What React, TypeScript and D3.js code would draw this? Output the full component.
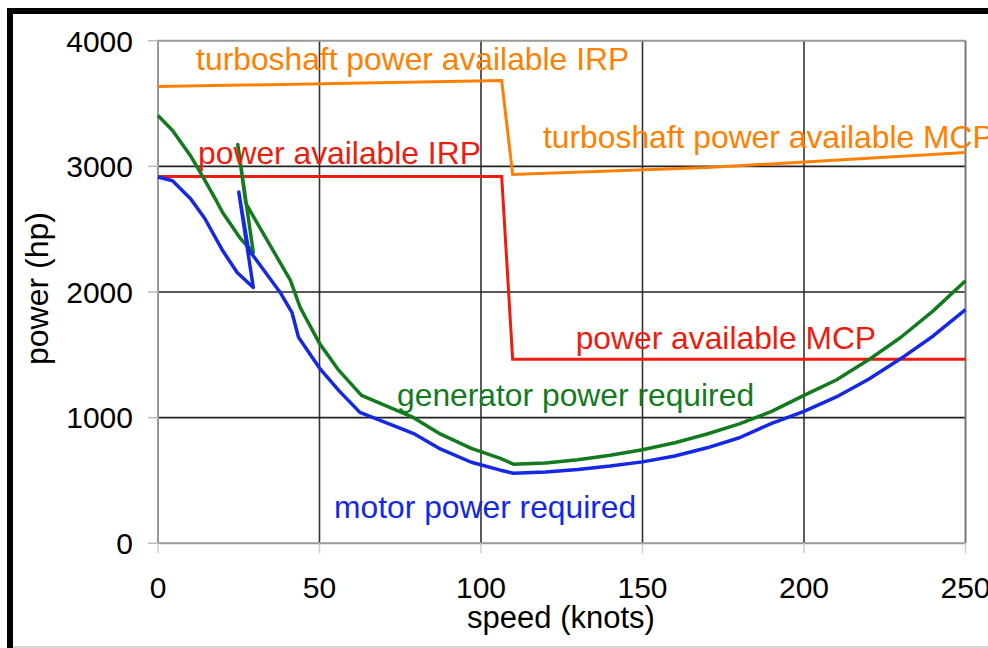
import React from "react";
import * as d3 from "d3";

const xTicks = [0, 50, 100, 150, 200, 250];
const yTicks = [0, 1000, 2000, 3000, 4000];

const turboSpeed = [0, 106.4, 109.8, 170, 250];
const turboPower = [3635, 3683, 2936, 2990, 3110];

const availSpeed = [0, 106.4, 109.8, 250];
const availPower = [2920, 2920, 1464, 1464];

const motorSpeed = [0, 4.5, 10, 14.5, 20, 24.5, 29.5, 25, 28, 38, 41.5, 43.5, 50, 56, 62.5, 79, 87, 97, 106, 110, 120, 130, 140, 150, 160, 170, 180, 190, 200, 210, 220, 230, 240, 250];
const motorPower = [2915, 2885, 2745, 2585, 2330, 2155, 2036, 2795, 2340, 1990, 1835, 1640, 1395, 1215, 1042, 875, 756, 645, 582, 558, 568, 588, 615, 648, 695, 760, 840, 955, 1050, 1165, 1305, 1470, 1650, 1860];

const genSpeed = [0, 4.5, 10, 14, 18, 20, 25.5, 29.5, 24.7, 27.2, 41, 44, 50, 56, 63, 79, 87, 97, 106, 110, 120, 130, 140, 150, 160, 170, 180, 190, 200, 210, 220, 230, 240, 250];
const genPower = [3405, 3285, 3087, 2912, 2729, 2633, 2426, 2315, 3174, 2705, 2092, 1877, 1591, 1376, 1177, 1002, 875, 756, 676, 630, 640, 665, 700, 745, 800, 870, 950, 1050, 1177, 1300, 1460, 1640, 1850, 2090];

const labels = [
  { text: "turboshaft power available IRP", x: 11.8, y: 3765, color: "#ff8000" },
  { text: "turboshaft power available MCP", x: 119.2, y: 3150, color: "#ff8000" },
  { text: "power available IRP", x: 12.4, y: 3020, color: "#ee1c0e" },
  { text: "power available MCP", x: 129.3, y: 1545, color: "#ee1c0e" },
  { text: "generator power required", x: 74, y: 1090, color: "#137a1e" },
  { text: "motor power required", x: 54.5, y: 200, color: "#1428e6" },
];

const W = 988;
const H = 648;
const left = 158;
const right = 965.5;
const top = 40.7;
const bottom = 543.3;

export default function App() {
  const x = d3.scaleLinear().domain([0, 250]).range([left, right]);
  const y = d3.scaleLinear().domain([0, 4000]).range([bottom, top]);
  const line = d3
    .line<[number, number]>()
    .x((d) => x(d[0]))
    .y((d) => y(d[1]));
  const pts = (s: number[], p: number[]) => s.map((v, i) => [v, p[i]] as [number, number]);
  const font = "'Liberation Sans', Arial, sans-serif";

  return (
    <div style={{ position: "fixed", left: 0, top: 0 }}>
      <svg width={W} height={H} style={{ display: "block", background: "#fff" }} fontFamily={font}>
        <rect x={0} y={0} width={W} height={H} fill="#fff" />
        {/* outer frame */}
        <rect x={7} y={8} width={6} height={H - 8} fill="#000" />
        <rect x={7} y={8} width={W - 7} height={6} fill="#000" />
        <line x1={13} x2={W} y1={647} y2={647} stroke="#c8c8c8" strokeWidth={1.5} />

        {/* grid */}
        {xTicks.slice(1, -1).map((t) => (
          <line key={"gx" + t} x1={x(t)} x2={x(t)} y1={top} y2={bottom} stroke="#333" strokeWidth={1.6} />
        ))}
        {yTicks.slice(1, -1).map((t) => (
          <line key={"gy" + t} x1={left} x2={right} y1={y(t)} y2={y(t)} stroke="#222" strokeWidth={1.6} />
        ))}
        {/* plot border */}
        <line x1={left} x2={right} y1={top} y2={top} stroke="#999" strokeWidth={2} />
        <line x1={right} x2={right} y1={top} y2={bottom} stroke="#777" strokeWidth={2} />
        <line x1={left} x2={left} y1={top} y2={bottom} stroke="#999" strokeWidth={2} />
        <line x1={left} x2={right} y1={bottom} y2={bottom} stroke="#999" strokeWidth={2} />

        {/* ticks */}
        {yTicks.map((t) => (
          <g key={"yt" + t}>
            <line x1={left - 10} x2={left} y1={y(t)} y2={y(t)} stroke="#bbb" strokeWidth={1.5} />
            <text x={133} y={y(t) + 10.8} textAnchor="end" fontSize={30} fill="#000">
              {t}
            </text>
          </g>
        ))}
        {xTicks.map((t) => (
          <g key={"xt" + t}>
            <line x1={x(t)} x2={x(t)} y1={bottom} y2={bottom + 10} stroke="#ccc" strokeWidth={1.5} />
            <text x={x(t)} y={598} textAnchor="middle" fontSize={30} fill="#000">
              {t}
            </text>
          </g>
        ))}
        <text x={561} y={628} textAnchor="middle" fontSize={31} fill="#000">
          speed (knots)
        </text>
        <text transform={`translate(48,365) rotate(-90)`} textAnchor="start" fontSize={32} fill="#000">
          power (hp)
        </text>

        {/* series */}
        <path d={line(pts(turboSpeed, turboPower)) ?? ""} fill="none" stroke="#ff8000" strokeWidth={3} />
        <path d={line(pts(availSpeed, availPower)) ?? ""} fill="none" stroke="#ee1c0e" strokeWidth={3} />
        <path d={line(pts(genSpeed, genPower)) ?? ""} fill="none" stroke="#137a1e" strokeWidth={3.5} strokeLinejoin="round" />
        <path d={line(pts(motorSpeed, motorPower)) ?? ""} fill="none" stroke="#1428e6" strokeWidth={3.5} strokeLinejoin="round" />

        {labels.map((l) => (
          <text key={l.text} x={x(l.x)} y={y(l.y)} fontSize={31.8} fill={l.color}>
            {l.text}
          </text>
        ))}
      </svg>
    </div>
  );
}
